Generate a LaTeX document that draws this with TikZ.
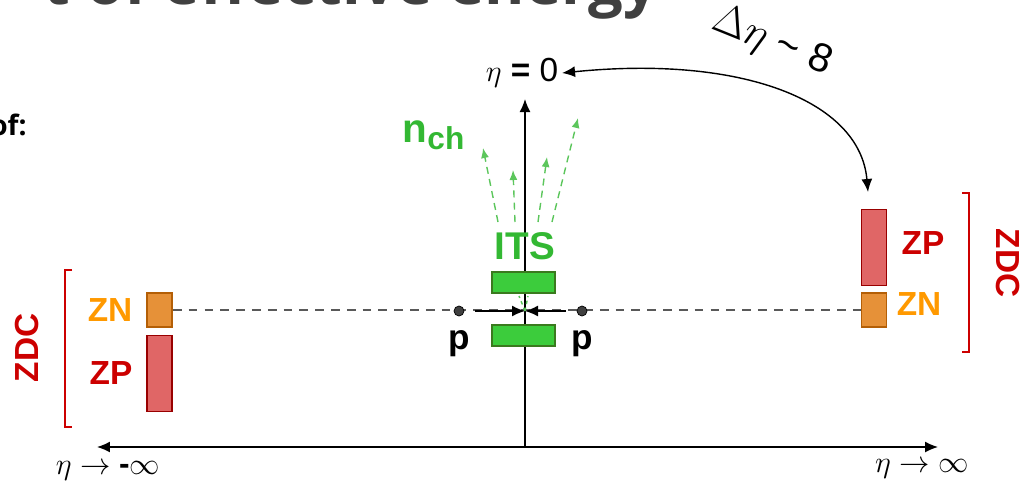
\documentclass[tikz,border=0pt]{standalone}
\usepackage{fontspec}
\setmainfont{Liberation Sans}
\newfontfamily\titlefont{Open Sans}
\usepackage{xcolor}
\usetikzlibrary{arrows.meta,calc,positioning}
\definecolor{itsgreen}{HTML}{3CCC3C}
\definecolor{itsdark}{HTML}{3A7A1E}
\definecolor{nchgreen}{HTML}{33B833}
\definecolor{zpred}{HTML}{CC0000}
\definecolor{zpfill}{HTML}{E06666}
\definecolor{zpdraw}{HTML}{990000}
\definecolor{znorange}{HTML}{FF9900}
\definecolor{znfill}{HTML}{E69138}
\definecolor{zndraw}{HTML}{B45F06}
\tikzset{
  axis/.style={-{Latex[length=2.6mm,width=2.2mm]}, thick, black},
  znbox/.style={draw=zndraw, fill=znfill, line width=1pt, minimum width=0.5cm, minimum height=0.68cm, inner sep=0pt},
  zpbox/.style={draw=zpdraw, fill=zpfill, line width=1pt, minimum width=0.5cm, minimum height=1.52cm, inner sep=0pt},
  itsbox/.style={draw=itsdark, fill=itsgreen, line width=1pt, minimum width=1.26cm, minimum height=0.42cm, inner sep=0pt},
  znlabel/.style={text=znorange, font=\fontsize{19}{22}\selectfont\bfseries, inner sep=0pt},
  zplabel/.style={text=zpred, font=\fontsize{19}{22}\selectfont\bfseries, inner sep=0pt},
  zdclabel/.style={text=zpred, font=\fontsize{19}{22}\selectfont\bfseries, inner sep=0pt},
  bracket/.style={draw=zpred, line width=0.9pt},
  track/.style={-{Latex[length=2mm,width=1.6mm]}, nchgreen!80!white, thick, dash pattern=on 4pt off 3pt},
  beam/.style={gray!70!black, thick, dash pattern=on 5pt off 4pt},
  proton/.style={circle, fill=black!75, draw=black, minimum size=0.2cm, inner sep=0pt},
  plabel/.style={font=\fontsize{20}{24}\selectfont\bfseries, inner sep=0pt},
  etalabel/.style={font=\fontsize{18}{21}\selectfont, inner sep=0pt}
}
\begin{document}
\begin{tikzpicture}[x=0.02cm, y=-0.02cm]
  \useasboundingbox (0,0) rectangle (1021,491);
  \clip (0,0) rectangle (1021,491);

  % slide fragments
  \node[anchor=base east, text=black!75, font=\titlefont\fontsize{35}{40}\selectfont\bfseries, inner sep=0pt] (title) at (659,4) {t of effective energy};
  \node[anchor=base east, font=\titlefont\fontsize{16}{19}\selectfont\bfseries, inner sep=0pt] (of) at (27,135) {of:};

  % axes
  \coordinate (xl) at (97,447);
  \coordinate (xr) at (938,447);
  \coordinate (o) at (525,447);
  \coordinate (top) at (525,99);
  \draw[axis] (o) -- (xl);
  \draw[axis] (o) -- (xr);
  \draw[axis] (o) -- (top);
  \node[font=\fontsize{19}{22}\selectfont, inner sep=2pt] (eta0) at (522,73) {$\eta$ \textbf{=} 0};
  \node[etalabel] (etaminus) at (108,471) {$\eta\rightarrow$ \textbf{-}$\infty$};
  \node[etalabel] (etaplus) at (922,469) {$\eta\rightarrow$ $\infty$};

  % detectors
  \node[znbox] (znl) at (159.5,310) {};
  \node[zpbox] (zpl) at (159.5,373.5) {};
  \node[znbox] (znr) at (874,310) {};
  \node[zpbox] (zpr) at (874,247.5) {};
  \node[znlabel] (znltext) at (110,310) {ZN};
  \node[zplabel] (zpltext) at (111,373) {ZP};
  \node[zplabel] (zprtext) at (923,243) {ZP};
  \node[znlabel] (znrtext) at (919,304) {ZN};
  \node[zdclabel, rotate=90] (zdcl) at (27,348) {ZDC};
  \node[zdclabel, rotate=-90] (zdcr) at (1008,263) {ZDC};
  \draw[bracket] (72,270) -- (65,270) -- (65,427) -- (72,427);
  \draw[bracket] (962,193) -- (969,193) -- (969,352) -- (962,352);

  % beam and ITS
  \draw[beam] (znl.east) -- (znr.west);
  \node[itsbox] (itsup) at (523.5,282.5) {};
  \node[itsbox] (itsdown) at (523.5,335.5) {};
  \node[text=nchgreen, font=\fontsize{22}{26}\selectfont\bfseries, inner sep=0pt] (its) at (525,246) {ITS};
  \coordinate (ip) at (525,311);
  \node[proton] (pl) at (459,311) {};
  \node[proton] (pr) at (582,311) {};
  \draw[axis, line width=0.9pt] ($(pl)+(16,0)$) -- (ip);
  \draw[axis, line width=0.9pt] ($(pr)+(-16,0)$) -- (ip);
  \node[plabel, below=8pt of pl] (pltext) {p};
  \node[plabel, below=8pt of pr] (prtext) {p};

  % produced particles
  \draw[nchgreen!80!white, thick, dash pattern=on 2pt off 2pt] (ip) -- (519,296);
  \draw[nchgreen!80!white, thick, dash pattern=on 2pt off 2pt] (ip) -- (528,296);
  \foreach \sx/\ex/\ey in {498/483/148, 515/513/170, 538/547/157, 552/578/118}
    {\draw[track] (\sx,222) -- (\ex,\ey);}
  \node[text=nchgreen, font=\fontsize{23}{26}\selectfont\bfseries, inner sep=0pt, anchor=base] (nch) at (434,142) {n\textsubscript{\fontsize{18}{20}\selectfont ch}};

  % pseudorapidity gap
  \coordinate (zpin) at (868,192);
  \draw[{Latex[length=2.6mm,width=2.2mm]}-{Latex[length=2.6mm,width=2.2mm]}, thick] (eta0.east) .. controls (740,55) and (860,100) .. (zpin);
  \node[rotate=-22, font=\fontsize{23}{26}\selectfont, inner sep=0pt] (gap) at (772,42) {$\Delta\eta$ \textasciitilde{} 8};
\end{tikzpicture}
\end{document}
